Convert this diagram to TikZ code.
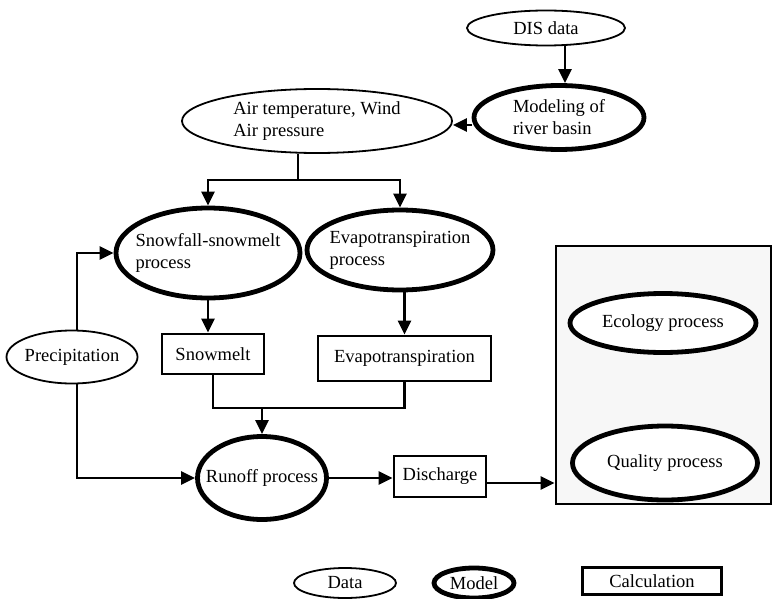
\documentclass[tikz,border=0pt]{standalone}
\usepackage{fontspec}
\setmainfont{Liberation Serif}
\usetikzlibrary{shapes.geometric,arrows.meta,calc}
\begin{document}
\begin{tikzpicture}[x=1pt,y=-1pt,
  every node/.style={font=\fontsize{18.5}{22}\selectfont, inner sep=0pt, align=left},
  dataell/.style={ellipse, draw, line width=1.8pt, fill=white, inner sep=-12pt},
  modelell/.style={ellipse, draw, line width=4.8pt, fill=white, inner sep=-12pt},
  calcbox/.style={rectangle, draw, line width=2.8pt, fill=white},
  ln/.style={line width=2.8pt, line join=miter},
  arr/.style={ln, -{Triangle[length=14pt,width=13pt]}}]
\useasboundingbox (0,0) rectangle (773,599);

% nodes
\node[dataell, minimum width=158, minimum height=35] (dis) at (546,28) {DIS data};
\node[modelell, minimum width=170, minimum height=64] (model) at (559,117.5) {Modeling of\\river basin};
\node[dataell, minimum width=270, minimum height=64] (air) at (317,121) {Air temperature, Wind\\Air pressure};
\node[modelell, minimum width=184, minimum height=90] (snow) at (208,253) {Snowfall-snowmelt\\process};
\node[modelell, minimum width=186, minimum height=80] (evap) at (400,250) {Evapotranspiration\\process};
\node[calcbox, minimum width=102, minimum height=40] (melt) at (213,354) {Snowmelt};
\node[calcbox, minimum width=173, minimum height=45] (evapbox) at (404.5,358.5) {Evapotranspiration};
\node[dataell, minimum width=131, minimum height=53] (precip) at (72,357) {Precipitation};
\node[modelell, minimum width=129, minimum height=83] (runoff) at (262,478) {Runoff process};
\node[calcbox, minimum width=92, minimum height=41] (disch) at (440,476.5) {Discharge};
\node[calcbox, minimum width=215, minimum height=258, fill=black!3] (big) at (663.5,375) {};
\node[modelell, minimum width=186, minimum height=59] (eco) at (663,323) {Ecology process};
\node[modelell, minimum width=185, minimum height=74] (qual) at (665,463) {Quality process};

% legend
\node[dataell, minimum width=102, minimum height=30] (legdata) at (345,583) {Data};
\node[modelell, minimum width=80, minimum height=30] (legmodel) at (474,583) {Model};
\node[calcbox, minimum width=139, minimum height=27] (legcalc) at (652,581) {Calculation};

% connectors
\coordinate (c1) at (565,0);
\draw[arr] (dis.south -| c1) -- (model.north -| c1);
\coordinate (c2) at (0,125);
\draw[arr] (model.west |- c2) -- (air.east |- c2);
\coordinate (sp) at (298,180);
\draw[ln] (air.south -| sp) -- (sp);
\draw[arr] (sp) -| (snow.north);
\draw[arr] (sp) -| (evap.north);
\draw[arr] (snow.south) -- (snow.south |- melt.north);
\draw[arr] (evapbox.north |- evap.south) -- (evapbox.north);
\coordinate (m) at (262,408);
\draw[ln] (melt.south) |- (m) -| (evapbox.south);
\draw[arr] (m) -- (m |- runoff.north);
\coordinate (p) at (77,0);
\draw[arr] (precip.north -| p) |- (snow.west);
\draw[arr] (precip.south -| p) |- (runoff.west);
\draw[arr] (runoff.east) -- (runoff.east -| disch.west);
\coordinate (c3) at (0,483);
\draw[arr] (disch.east |- c3) -- (big.west |- c3);
\end{tikzpicture}
\end{document}
